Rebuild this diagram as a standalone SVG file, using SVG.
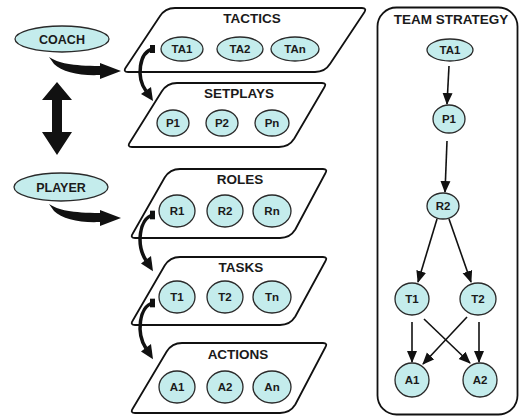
<svg xmlns="http://www.w3.org/2000/svg" width="520" height="418" viewBox="0 0 520 418">
<style>
.box{fill:#fff;stroke:#111;stroke-width:1.8;stroke-linejoin:round}
.ell{fill:#c4ecec;stroke:#2a2a2a;stroke-width:1.3}
.t{font-family:"Liberation Sans",Arial,sans-serif;font-weight:bold;fill:#1a1a1a;text-anchor:middle}
.h{font-size:13.5px}
.s{font-size:11.5px}
.big{font-size:12.5px}
.arr{stroke:#111;stroke-width:1.6;fill:none;marker-end:url(#ah)}
</style>
<defs>
<marker id="ah" viewBox="0 0 12 12" refX="11" refY="6" markerWidth="12" markerHeight="12" markerUnits="userSpaceOnUse" orient="auto">
<path d="M0,1 L12,6 L0,11 z" fill="#111"/>
</marker>
<g id="curl">
<rect x="150" y="-4" width="5" height="8" fill="#111"/>
<path d="M153,0 C139,3 136,28 146,42" fill="none" stroke="#111" stroke-width="3.5"/>
<polygon points="141,45 151,38 153,52" fill="#111"/>
</g>
<g id="swoosh">
<path d="M49,0 C58,6 72,9 100,9 L100,6 L121,14 L100,22 L100,18 C80,19 62,15 54,7 Z" fill="#111"/>
</g>
</defs>
<rect width="520" height="418" fill="#fff"/>

<g id="coach">
<ellipse class="ell" cx="62" cy="39" rx="47" ry="13"/>
<text class="t big" x="62" y="44">COACH</text>
</g>
<g id="player">
<ellipse class="ell" cx="61" cy="187" rx="47" ry="14"/>
<text class="t big" x="61" y="192">PLAYER</text>
</g>

<g id="tactics">
<path class="box" d="M175,8 L362,8 Q367,8 364.35,12.25 L330.3,63.5 Q325,72 315,72 L128,72 Q123,72 125.65,67.75 L159.7,16.5 Q165,8 175,8 Z"/>
<text class="t h" x="252" y="23">TACTICS</text>
<ellipse class="ell" cx="182" cy="49" rx="21" ry="12"/><text class="t s" x="182" y="53">TA1</text>
<ellipse class="ell" cx="240" cy="49" rx="23" ry="12"/><text class="t s" x="240" y="53">TA2</text>
<ellipse class="ell" cx="295" cy="49" rx="24" ry="12"/><text class="t s" x="295" y="53">TAn</text>
</g>
<g id="setplays">
<path class="box" d="M177,83 L322,83 Q327,83 324.35,87.25 L294.3,138.5 Q289,147 279,147 L132,147 Q127,147 129.65,142.75 L161.7,91.5 Q167,83 177,83 Z"/>
<text class="t h" x="239" y="98">SETPLAYS</text>
<ellipse class="ell" cx="173" cy="123" rx="16" ry="13"/><text class="t s" x="173" y="127">P1</text>
<ellipse class="ell" cx="222" cy="123" rx="16" ry="13"/><text class="t s" x="222" y="127">P2</text>
<ellipse class="ell" cx="272" cy="123" rx="17" ry="13"/><text class="t s" x="272" y="127">Pn</text>
</g>
<g id="roles">
<path class="box" d="M180,169 L323,169 Q328,169 325.35,173.25 L295.3,229.5 Q290,238 280,238 L135,238 Q130,238 132.65,233.75 L164.7,177.5 Q170,169 180,169 Z"/>
<text class="t h" x="240" y="184">ROLES</text>
<ellipse class="ell" cx="177" cy="211" rx="18" ry="16"/><text class="t s" x="177" y="215">R1</text>
<ellipse class="ell" cx="225" cy="211" rx="18" ry="16"/><text class="t s" x="225" y="215">R2</text>
<ellipse class="ell" cx="272" cy="211" rx="19" ry="16"/><text class="t s" x="272" y="215">Rn</text>
</g>
<g id="tasks">
<path class="box" d="M180,257 L323,257 Q328,257 325.35,261.25 L295.3,316.5 Q290,325 280,325 L135,325 Q130,325 132.65,320.75 L164.7,265.5 Q170,257 180,257 Z"/>
<text class="t h" x="241" y="272">TASKS</text>
<ellipse class="ell" cx="177" cy="297" rx="18" ry="16"/><text class="t s" x="177" y="301">T1</text>
<ellipse class="ell" cx="225" cy="297" rx="18" ry="16"/><text class="t s" x="225" y="301">T2</text>
<ellipse class="ell" cx="272" cy="297" rx="19" ry="16"/><text class="t s" x="272" y="301">Tn</text>
</g>
<g id="actions">
<path class="box" d="M182,343 L323,343 Q328,343 325.35,347.25 L295.3,404.5 Q290,413 280,413 L135,413 Q130,413 132.65,408.75 L166.7,351.5 Q172,343 182,343 Z"/>
<text class="t h" x="238" y="359">ACTIONS</text>
<ellipse class="ell" cx="177" cy="387" rx="18" ry="16"/><text class="t s" x="177" y="391">A1</text>
<ellipse class="ell" cx="225" cy="387" rx="18" ry="16"/><text class="t s" x="225" y="391">A2</text>
<ellipse class="ell" cx="272" cy="387" rx="19" ry="16"/><text class="t s" x="272" y="391">An</text>
</g>

<g id="team-strategy">
<rect class="box" x="377.5" y="7.5" width="140" height="407" rx="19"/>
<text class="t h" x="451" y="24">TEAM STRATEGY</text>
<g id="ts-ta1"><ellipse class="ell" cx="450" cy="50" rx="23" ry="11"/><text class="t s" x="450" y="54">TA1</text></g>
<g id="ts-p1"><ellipse class="ell" cx="449" cy="119" rx="16" ry="14"/><text class="t s" x="449" y="123">P1</text></g>
<g id="ts-r2"><ellipse class="ell" cx="443" cy="206" rx="16" ry="13"/><text class="t s" x="443" y="210">R2</text></g>
<g id="ts-t1"><ellipse class="ell" cx="412" cy="299" rx="17" ry="16"/><text class="t s" x="412" y="303">T1</text></g>
<g id="ts-t2"><ellipse class="ell" cx="478" cy="299" rx="18" ry="16"/><text class="t s" x="478" y="303">T2</text></g>
<g id="ts-a1"><ellipse class="ell" cx="412" cy="380" rx="17" ry="17"/><text class="t s" x="412" y="384">A1</text></g>
<g id="ts-a2"><ellipse class="ell" cx="480" cy="380" rx="17" ry="17"/><text class="t s" x="480" y="384">A2</text></g>
</g>

<g id="connectors">
<use href="#swoosh" transform="translate(0,57)"/>
<use href="#swoosh" transform="translate(0,204)"/>
<path d="M57,82 L72,100 L62,100 L62,132 L72,132 L57,155 L42,132 L52,132 L52,100 L42,100 Z" fill="#111"/>
<use href="#curl" transform="translate(0,49)"/>
<use href="#curl" transform="translate(0,215) scale(1,1.08)"/>
<use href="#curl" transform="translate(0,303) scale(1,1.08)"/>
<line class="arr" x1="449" y1="66" x2="447" y2="104"/>
<line class="arr" x1="447" y1="141" x2="445" y2="192"/>
<line class="arr" x1="437" y1="219" x2="418" y2="282"/>
<line class="arr" x1="449" y1="219" x2="471" y2="282"/>
<line class="arr" x1="412" y1="322" x2="412" y2="362"/>
<line class="arr" x1="479" y1="322" x2="479" y2="362"/>
<line class="arr" x1="424" y1="319" x2="470" y2="363"/>
<line class="arr" x1="467" y1="317" x2="423" y2="364"/>
</g>
</svg>
